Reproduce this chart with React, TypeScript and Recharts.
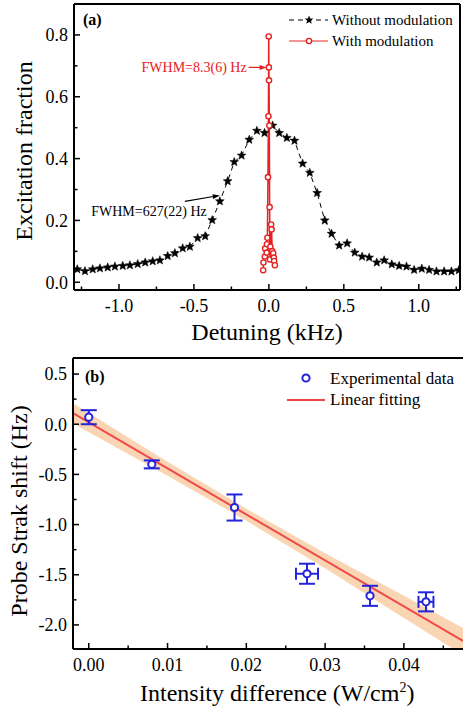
import React from 'react';
import {
  ComposedChart,
  Line,
  Scatter,
  Area,
  XAxis,
  YAxis,
  ReferenceLine,
  ReferenceDot,
  ErrorBar,
} from 'recharts';

const FONT = '"Liberation Serif", "Times New Roman", Times, serif';

// ---------- Panel (a) data ----------
const noModX = [-1.278, -1.227, -1.175, -1.127, -1.075, -1.027, -0.975, -0.927, -0.875, -0.825, -0.775, -0.727, -0.675, -0.627, -0.575, -0.527, -0.475, -0.425, -0.378, -0.327, -0.275, -0.231, -0.182, -0.131, -0.08, -0.029, 0.025, 0.069, 0.12, 0.171, 0.225, 0.273, 0.322, 0.373, 0.418, 0.469, 0.522, 0.573, 0.622, 0.669, 0.72, 0.769, 0.82, 0.869, 0.918, 0.969, 1.02, 1.069, 1.118, 1.169, 1.218, 1.267];
const noModY = [0.042, 0.036, 0.042, 0.045, 0.048, 0.051, 0.053, 0.055, 0.059, 0.064, 0.068, 0.071, 0.085, 0.094, 0.11, 0.115, 0.143, 0.149, 0.201, 0.262, 0.327, 0.389, 0.41, 0.461, 0.49, 0.483, 0.507, 0.483, 0.467, 0.458, 0.384, 0.354, 0.289, 0.2, 0.157, 0.119, 0.126, 0.096, 0.083, 0.08, 0.064, 0.071, 0.058, 0.053, 0.051, 0.04, 0.044, 0.04, 0.035, 0.035, 0.035, 0.039];

const modX = [-0.038, -0.036, -0.027, -0.025, -0.015, -0.013, -0.01, -0.006, -0.003, -0.001, 0.0, 0.001, 0.003, 0.005, 0.007, 0.01, 0.015, 0.018, 0.022, 0.029, 0.033, 0.035, 0.04];
const modY = [0.039, 0.064, 0.083, 0.109, 0.096, 0.123, 0.144, 0.34, 0.537, 0.795, 0.695, 0.653, 0.507, 0.243, 0.074, 0.115, 0.187, 0.171, 0.101, 0.094, 0.08, 0.069, 0.055];

const topXMajor = [-1.0, -0.5, 0, 0.5, 1.0];
const topXLabels = ['-1.0', '-0.5', '0.0', '0.5', '1.0'];
const topXMinor = [-1.25, -0.75, -0.25, 0.25, 0.75, 1.25];
const topYMajor = [0, 0.2, 0.4, 0.6, 0.8];
const topYLabels = ['0.0', '0.2', '0.4', '0.6', '0.8'];
const topYMinor = [0.1, 0.3, 0.5, 0.7];

// ---------- Panel (b) data ----------
const expX = [0.0, 0.008, 0.0185, 0.0277, 0.0357, 0.0428];
const expY = [0.07, -0.4, -0.83, -1.49, -1.71, -1.77];
const expYErr = [0.07, 0.04, 0.13, 0.1, 0.1, 0.095];
const expXErr = [0, 0, 0, 0.0014, 0, 0.00095];

const fitX = [-0.002, 0.0475];
const fitY = [0.11, -2.16];

const bandX = [-0.002, 0.01, 0.02, 0.03, 0.04, 0.0475];
const bandLo = [0.008, -0.513, -0.962, -1.436, -1.93, -2.3];
const bandHi = [0.208, -0.373, -0.842, -1.286, -1.71, -2.03];

const botXMajor = [0, 0.01, 0.02, 0.03, 0.04];
const botXLabels = ['0.00', '0.01', '0.02', '0.03', '0.04'];
const botXMinor = [0.005, 0.015, 0.025, 0.035, 0.045];
const botYMajor = [-2.0, -1.5, -1.0, -0.5, 0.0, 0.5];
const botYLabels = ['-2.0', '-1.5', '-1.0', '-0.5', '0.0', '0.5'];
const botYMinor = [-1.75, -1.25, -0.75, -0.25, 0.25];

// ---------- built tables ----------
const noModData = noModX.map((x, i) => ({ x, y: noModY[i] }));
const modData = modX.map((x, i) => ({ x, y: modY[i] }));
const expData = expX.map((x, i) => ({ x, y: expY[i], ex: expXErr[i], ey: expYErr[i] }));
const fitData = fitX.map((x, i) => ({ x, fit: fitY[i] }));
const bandData = bandX.map((x, i) => ({ x, band: [bandLo[i], bandHi[i]] }));

const TICK_FS = 18;
const BLUE = '#2323dc';
const RED = '#e82020';

function starPoints(cx: number, cy: number, ro: number, ri: number) {
  const pts: string[] = [];
  for (let k = 0; k < 10; k++) {
    const r = k % 2 === 0 ? ro : ri;
    const a = -Math.PI / 2 + (k * Math.PI) / 5;
    pts.push(`${cx + r * Math.cos(a)},${cy + r * Math.sin(a)}`);
  }
  return pts.join(' ');
}

const StarDot = (props: any) => {
  const { cx, cy, index } = props;
  if (cx == null || cy == null) return <g key={`s${index}`} />;
  return <polygon key={`s${index}`} points={starPoints(cx, cy, 4.6, 2)} fill="#000" stroke="#000" strokeWidth={0.5} />;
};

const RingDot = (props: any) => {
  const { cx, cy, index } = props;
  if (cx == null || cy == null) return <g key={`r${index}`} />;
  return <circle key={`r${index}`} cx={cx} cy={cy} r={2.6} fill="#fff" stroke={RED} strokeWidth={1.4} />;
};

function makeXTick(majors: number[], labels: string[]) {
  return (props: any) => {
    const { x, y, payload } = props;
    const i = majors.findIndex((m) => Math.abs(m - payload.value) < 1e-9);
    const major = i >= 0;
    return (
      <g>
        <line x1={x} x2={x} y1={y} y2={y - (major ? 6 : 3.5)} stroke="#000" strokeWidth={1.5} />
        {major && (
          <text x={x} y={y + 22} textAnchor="middle" fontFamily={FONT} fontSize={TICK_FS} fill="#000">
            {labels[i]}
          </text>
        )}
      </g>
    );
  };
}

function makeYTick(majors: number[], labels: string[]) {
  return (props: any) => {
    const { x, y, payload } = props;
    const i = majors.findIndex((m) => Math.abs(m - payload.value) < 1e-9);
    const major = i >= 0;
    return (
      <g>
        <line x1={x} x2={x + (major ? 6 : 3.5)} y1={y} y2={y} stroke="#000" strokeWidth={1.5} />
        {major && (
          <text x={x - 6} y={y} dy="0.35em" textAnchor="end" fontFamily={FONT} fontSize={TICK_FS} fill="#000">
            {labels[i]}
          </text>
        )}
      </g>
    );
  };
}

const RedArrow = (props: any) => {
  const { cx, cy } = props;
  return (
    <g>
      <line x1={cx - 18} y1={cy} x2={cx - 5} y2={cy} stroke={RED} strokeWidth={1.2} />
      <polygon points={`${cx},${cy} ${cx - 7},${cy - 2.5} ${cx - 7},${cy + 2.5}`} fill={RED} />
      <text x={cx - 20} y={cy + 5} textAnchor="end" fontFamily={FONT} fontSize={14} fill={RED}>
        FWHM=8.3(6) Hz
      </text>
    </g>
  );
};

const BlackArrow = (props: any) => {
  const { cx, cy } = props;
  return (
    <g>
      <line x1={cx - 35} y1={cy + 6} x2={cx - 5} y2={cy + 0.9} stroke="#000" strokeWidth={1.1} />
      <polygon points={`${cx},${cy} ${cx - 7.4},${cy - 1.2} ${cx - 6.6},${cy + 3.6}`} fill="#000" />
      <text x={cx - 13} y={cy + 21} textAnchor="end" fontFamily={FONT} fontSize={14} fill="#000">
        FWHM=627(22) Hz
      </text>
    </g>
  );
};

export default function App() {
  const topDomainX: [number, number] = [-1.3, 1.275];
  const topDomainY: [number, number] = [-0.025, 0.9];
  const botDomainX: [number, number] = [-0.002, 0.0475];
  const botDomainY: [number, number] = [-2.24, 0.66];

  return (
    <div
      style={{
        position: 'absolute',
        left: 0,
        top: 0,
        width: 463,
        height: 709,
        overflow: 'hidden',
        background: '#fff',
        fontFamily: FONT,
      }}
    >
      {/* Panel (a) */}
      <div style={{ position: 'absolute', left: 0, top: 0 }}>
        <ComposedChart width={463} height={345} margin={{ top: 4, right: 3, left: 14, bottom: 15 }}>
          <XAxis
            type="number"
            dataKey="x"
            domain={topDomainX}
            allowDataOverflow
            ticks={[...topXMajor, ...topXMinor]}
            interval={0}
            height={40}
            tickSize={0}
            tickMargin={0}
            tickLine={false}
            axisLine={{ stroke: '#000', strokeWidth: 2 }}
            tick={makeXTick(topXMajor, topXLabels)}
          />
          <YAxis
            type="number"
            dataKey="y"
            domain={topDomainY}
            allowDataOverflow
            ticks={[...topYMajor, ...topYMinor]}
            interval={0}
            width={60}
            tickSize={0}
            tickMargin={0}
            tickLine={false}
            axisLine={{ stroke: '#000', strokeWidth: 2 }}
            tick={makeYTick(topYMajor, topYLabels)}
          />
          <ReferenceLine y={topDomainY[1]} stroke="#000" strokeWidth={2} />
          <ReferenceLine x={topDomainX[1]} stroke="#000" strokeWidth={2} />
          <Line
            data={noModData}
            dataKey="y"
            type="linear"
            stroke="#000"
            strokeWidth={1}
            strokeDasharray="5 4"
            dot={StarDot}
            activeDot={false}
            isAnimationActive={false}
          />
          <Line
            data={modData}
            dataKey="y"
            type="linear"
            stroke={RED}
            strokeWidth={1.5}
            dot={RingDot}
            activeDot={false}
            isAnimationActive={false}
          />
          <ReferenceDot x={-0.015} y={0.695} r={0} ifOverflow="visible" shape={RedArrow} />
          <ReferenceDot x={-0.327} y={0.281} r={0} ifOverflow="visible" shape={BlackArrow} />
        </ComposedChart>
      </div>

      {/* Panel (b) */}
      <div style={{ position: 'absolute', left: 0, top: 345 }}>
        <ComposedChart
          width={463}
          height={364}
          data={bandData}
          margin={{ top: 13, right: 0, left: 13, bottom: 20 }}
        >
          <XAxis
            type="number"
            dataKey="x"
            domain={botDomainX}
            allowDataOverflow
            ticks={[...botXMajor, ...botXMinor]}
            interval={0}
            height={40}
            tickSize={0}
            tickMargin={0}
            tickLine={false}
            axisLine={{ stroke: '#000', strokeWidth: 2 }}
            tick={makeXTick(botXMajor, botXLabels)}
          />
          <YAxis
            type="number"
            domain={botDomainY}
            allowDataOverflow
            ticks={[...botYMajor, ...botYMinor]}
            interval={0}
            width={60}
            tickSize={0}
            tickMargin={0}
            tickLine={false}
            axisLine={{ stroke: '#000', strokeWidth: 2 }}
            tick={makeYTick(botYMajor, botYLabels)}
          />
          <ReferenceLine y={botDomainY[1]} stroke="#000" strokeWidth={2} />
          <Area
            dataKey="band"
            type="linear"
            stroke="none"
            fill="#f7c79a"
            fillOpacity={0.75}
            activeDot={false}
            isAnimationActive={false}
          />
          <Line
            data={fitData}
            dataKey="fit"
            type="linear"
            stroke="#f04848"
            strokeWidth={2}
            dot={false}
            activeDot={false}
            isAnimationActive={false}
          />
          <Scatter
            data={expData}
            dataKey="y"
            isAnimationActive={false}
            shape={(p: any) => (
              <circle cx={p.cx} cy={p.cy} r={3.6} fill="#fff" stroke={BLUE} strokeWidth={2} />
            )}
          >
            <ErrorBar dataKey="ey" direction="y" width={8} stroke={BLUE} strokeWidth={2} isAnimationActive={false} />
            <ErrorBar dataKey="ex" direction="x" width={6} stroke={BLUE} strokeWidth={2} isAnimationActive={false} />
          </Scatter>
        </ComposedChart>
      </div>

      {/* Text overlay: panel labels, legends, axis titles */}
      <svg
        width={463}
        height={709}
        style={{ position: 'absolute', left: 0, top: 0, pointerEvents: 'none', fontFamily: FONT }}
      >
        <text x={83} y={25} fontFamily={FONT} fontSize={16} fontWeight="bold" fill="#000">(a)</text>
        <line x1={289} x2={328} y1={20} y2={20} stroke="#000" strokeWidth={1} strokeDasharray="5 4" />
        <polygon points={starPoints(309, 20, 4.6, 2)} fill="#000" />
        <text x={332} y={25} fontFamily={FONT} fontSize={15} fill="#000">Without modulation</text>
        <line x1={289} x2={328} y1={41} y2={41} stroke="#f07070" strokeWidth={1.5} />
        <circle cx={309} cy={41} r={2.6} fill="#fff" stroke={RED} strokeWidth={1.4} />
        <text x={332} y={46} fontFamily={FONT} fontSize={15} fill="#000">With modulation</text>
        <text transform="translate(32,151) rotate(-90)" textAnchor="middle" fontFamily={FONT} fontSize={24} fill="#000">
          Excitation fraction
        </text>
        <text x={267} y={340} textAnchor="middle" fontFamily={FONT} fontSize={24} fill="#000">Detuning (kHz)</text>

        <text x={85} y={382} fontFamily={FONT} fontSize={16} fontWeight="bold" fill="#000">(b)</text>
        <circle cx={306} cy={378} r={3.6} fill="#fff" stroke={BLUE} strokeWidth={2} />
        <text x={330} y={384} fontFamily={FONT} fontSize={17} fill="#000">Experimental data</text>
        <line x1={287} x2={325} y1={400} y2={400} stroke="#f04848" strokeWidth={2} />
        <text x={330} y={405} fontFamily={FONT} fontSize={17} fill="#000">Linear fitting</text>
        <text transform="translate(27,511) rotate(-90)" textAnchor="middle" fontFamily={FONT} fontSize={24} fill="#000">
          Probe Strak shift (Hz)
        </text>
        <text x={140} y={701} fontFamily={FONT} fontSize={24} fill="#000">
          Intensity difference (W/cm
          <tspan dy={-9} fontSize={14}>2</tspan>
          <tspan dy={9}>)</tspan>
        </text>
      </svg>
    </div>
  );
}
